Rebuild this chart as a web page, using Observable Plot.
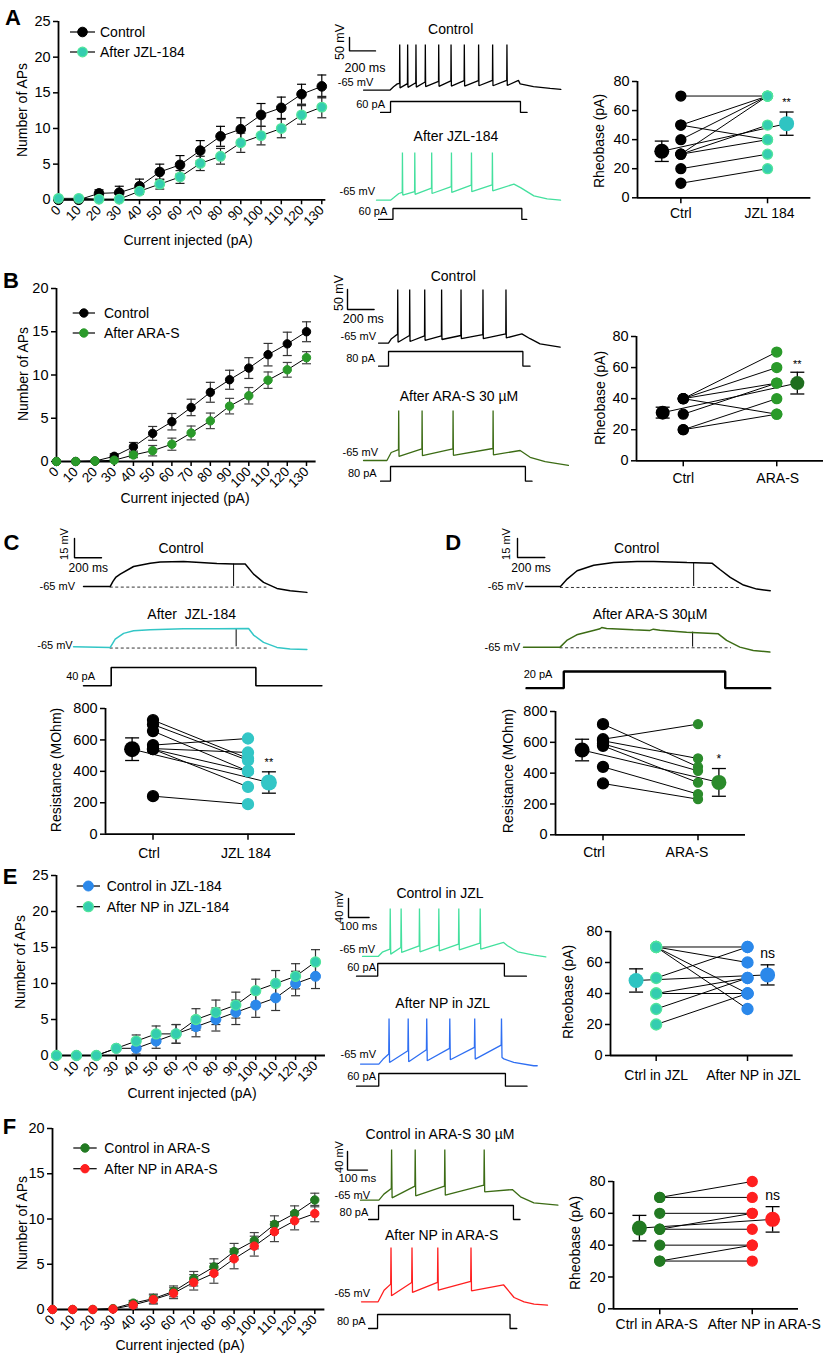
<!DOCTYPE html>
<html>
<head>
<meta charset="utf-8">
<script src="https://cdn.jsdelivr.net/npm/d3@7"></script>
<script src="https://cdn.jsdelivr.net/npm/@observablehq/plot@0.6"></script>
<style>
html, body { margin: 0; padding: 0; background: #fff; }
#fig { position: relative; width: 837px; height: 1354px; overflow: hidden; background: #fff;
  font-family: "Liberation Sans", Arial, Helvetica, sans-serif; color: #000; }
.lbl { position: absolute; white-space: pre; line-height: 1; transform-origin: 0 0; }
#fig svg { position: absolute; }
</style>
</head>
<body>
<div id="fig"></div>
<script>
// ================= DATA =================
const currents = [0,10,20,30,40,50,60,70,80,90,100,110,120,130];
const apTicks25 = [0,5,10,15,20,25];
const apTicks20 = [0,5,10,15,20];
const rheoTicks = [0,20,40,60,80];
const resTicks = [0,200,400,600,800];

// Panel A: number of APs
const seriesA = ["Control", "After JZL-184"];
const apA_ctrl    = [0,0,0.9,1,1.9,3.9,4.9,6.9,8.9,9.9,11.9,12.9,14.8,15.9];
const apA_ctrlSem = [0,0,0.5,0.9,1.0,1.1,1.3,1.4,1.4,1.6,1.6,1.5,1.4,1.6];
const apA_jzl     = [0.2,0.2,0.1,0.1,1.2,2.2,3.2,5.1,6.1,8.0,9.0,10.0,11.9,13.0];
const apA_jzlSem  = [0,0,0,0,0.4,0.7,0.9,1.0,1.1,1.35,1.3,1.3,1.3,1.5];
// Panel B
const seriesB = ["Control", "After ARA-S"];
const apB_ctrl    = [0,0,0.05,0.6,1.7,3.25,4.6,6.25,8.0,9.45,10.8,12.35,13.6,15.0];
const apB_ctrlSem = [0,0,0,0.3,0.5,0.8,0.95,0.95,1.15,1.1,1.2,1.3,1.35,1.15];
const apB_aras    = [0,0,0.05,0.15,0.75,1.25,2.0,3.3,4.7,6.4,7.6,9.4,10.6,12.0];
const apB_arasSem = [0,0,0,0,0.3,0.6,0.7,0.8,0.9,0.9,0.95,0.95,0.85,0.7];
// Panel E
const seriesE = ["Control in JZL-184", "After NP in JZL-184"];
const apE_ctrl    = [0,0,0,1,1,2,3,4,5,6,7,8,10,11];
const apE_ctrlSem = [0,0,0,0,0.8,1.0,1.3,1.4,1.6,1.7,1.7,1.75,1.7,1.7];
const apE_np      = [0,0,0,1,2,3,3,5,6,7,9,10,11,13];
const apE_npSem   = [0,0,0,0,0.85,1.1,1.3,1.5,1.7,1.8,1.6,1.8,1.75,1.7];
// Panel F
const seriesF = ["Control in ARA-S", "After NP in ARA-S"];
const apF_ctrl    = [0,0,0,0.1,0.7,1.2,2.0,3.4,4.7,6.4,7.6,9.4,10.6,12.1];
const apF_ctrlSem = [0,0,0,0,0.3,0.5,0.6,0.8,0.9,0.9,0.9,0.95,0.85,0.75];
const apF_np      = [0,0,0,0.05,0.5,1.1,1.8,3.0,4.0,5.6,7.0,8.6,9.8,10.6];
const apF_npSem   = [0,0,0,0,0.3,0.5,0.6,0.85,1.1,1.1,1.1,1.1,1.0,0.9];

// Paired plots (before -> after per cell), group mean and SEM
const catsA = ["Ctrl", "JZL 184"];
const rheoA_before = [70,50,50,40,30,30,30,20,10];
const rheoA_after  = [70,70,40,70,70,50,40,30,20];
const rheoA_mean = [32, 51], rheoA_sem = [7, 8];
const catsB = ["Ctrl", "ARA-S"];
const rheoB_before = [40,40,40,40,30,20,20];
const rheoB_after  = [70,60,50,30,50,40,30];
const rheoB_mean = [31, 50], rheoB_sem = [3.5, 7];
const catsC = ["Ctrl", "JZL 184"];
const resC_before = [726,698,656,567,545,541,541,242];
const resC_after  = [482,470,401,609,520,401,301,191];
const resC_mean = [541, 329], resC_sem = [72, 68];
const catsD = ["Ctrl", "ARA-S"];
const resD_before = [718,620,610,590,577,441,333];
const resD_after  = [441,718,495,415,339,264,231];
const resD_mean = [550, 340], resD_sem = [70, 90];
const catsE = ["Ctrl in JZL", "After NP in JZL"];
const rheoE_before = [70,70,70,70,50,40,40,30,20];
const rheoE_after  = [70,60,40,30,70,50,40,50,40];
const rheoE_mean = [48.4, 52], rheoE_sem = [7.5, 6.5];
const catsF = ["Ctrl in ARA-S", "After NP in ARA-S"];
const rheoF_before = [70,70,60,50,50,40,30,30];
const rheoF_after  = [80,70,60,60,50,40,40,30];
const rheoF_mean = [50.7, 56.2], rheoF_sem = [8, 8];

// Voltage traces (ms from current onset, mV). spikes = times, thr = pre-spike mV, ahp = post-spike mV
const trA1_spk = [72,133,197,269,372,467,569,679,787,897];
const trA1_thr = [-40,-41,-38,-35,-33,-31,-30,-30,-29,-29];
const trA1_ahp = [-57,-55,-54,-52,-51,-50,-50,-49,-49,-48];
const trA2_spk = [90,185,315,467,621,782];
const trA2_thr = [-36,-33,-20,-14,-9,-8];
const trA2_ahp = [-46,-43,-40,-36,-33,-30];
const trB1_spk = [68,158,271,398,544,709,882];
const trB1_thr = [-43,-46,-47,-47,-46,-44,-42];
const trB1_ahp = [-63,-61,-58,-56,-54,-54,-52];
const trB2_spk = [75,251,484,785];
const trB2_thr = [-38,-36,-36,-35];
const trB2_ahp = [-55,-53,-52,-51];
const trE1_spk = [57,110,199,293,390,494];
const trE1_thr = [-49.6,-46.1,-42.5,-41.1,-39,-36.9];
const trE1_ahp = [-60.1,-56.6,-55.2,-53.1,-51,-49.6];
const trE2_spk = [53,146,236,348,469,599];
const trE2_thr = [-43.9,-36.9,-34.8,-32,-29.9,-25];
const trE2_ahp = [-61.5,-60.1,-58,-55.9,-54.5,-51];
const trF1_spk = [62,180,328,525];
const trF1_thr = [-39.9,-34.9,-34.9,-32.7];
const trF1_ahp = [-60,-55.7,-54.2,-47.1];
const trF2_spk = [58,163,292,458];
const trF2_thr = [-27,-23.4,-23.4,-21.3];
const trF2_ahp = [-52.1,-44.9,-39.9,-41.3];
// shape: [start, onset, peak, off time, off mV], rise points, decay points
const trA1_shape = [-205, 0, 105, 987, -29], trA1_rise = [[26,-53],[55,-42]], trA1_decay = [[1000,-42],[1103,-52],[1231,-59],[1313,-62.5]];
const trA2_shape = [-108, 0, 113, 949, -5], trA2_rise = [[26,-55],[64,-40]], trA2_decay = [[1000,-18],[1103,-49],[1205,-60],[1308,-65]];
const trB1_shape = [-75, 0, 69, 1003, -42], trB1_rise = [[20,-55],[50,-47]], trB1_decay = [[1065,-54],[1140,-67],[1291,-75]];
const trB2_shape = [-188, -12, 60, 990, -40], trB2_rise = [[20,-45]], trB2_decay = [[1065,-57],[1178,-68],[1353,-77]];
const trE1_shape = [-76, 0, 36, 609, -35.5], trE1_rise = [[20,-56]], trE1_decay = [[628,-42.5],[677,-55.2],[757,-62.2],[814,-65.7]];
const trE2_shape = [-84, 5, 31, 612, -54], trE2_rise = [[25,-55]], trE2_decay = [[660,-61.5],[757,-68.5],[774,-68.5]];
const trF1_shape = [-92, 0, 44, 667, -42.1], trF1_rise = [[25,-52]], trF1_decay = [[708,-57.8],[775,-70.7],[895,-75.8]];
const trF2_shape = [-88, -5, 51.8, 622, -28.4], trF2_rise = [[25,-40]], trF2_decay = [[675,-55.7],[725,-65],[775,-70],[842,-72.2]];
// Subthreshold traces C, D ([ms, mV])
const trC1 = [[-198,-65],[0,-65],[20,-61],[40,-58],[74,-55.4],[173,-49.5],[296,-46.9],[370,-45.9],[543,-45.6],[667,-46.3],[790,-47.1],[914,-47.6],[1000,-47.6],[1062,-55.4],[1136,-61.8],[1235,-66.5],[1333,-68.3],[1457,-69.6]];
const trC2 = [[-272,-65],[0,-65.5],[37,-59],[99,-54.6],[173,-52.6],[296,-51.8],[543,-51],[790,-51],[1025,-50.8],[1062,-55.9],[1136,-61.6],[1235,-65.5],[1333,-66.8],[1457,-67.1]];
const trD1 = [[-256,-65],[0,-65],[49,-59.2],[122,-52.6],[244,-48.2],[390,-46.1],[561,-45.3],[683,-45.3],[927,-46.1],[1110,-46.6],[1171,-51.8],[1244,-57.9],[1341,-63.9],[1439,-67.1],[1537,-68.4]];
const trD2 = [[-268,-65],[0,-65],[49,-59.7],[122,-55.3],[244,-51.8],[293,-50.5],[305,-49.5],[341,-50.3],[537,-51.3],[659,-51.8],[683,-50.8],[732,-51.6],[927,-53.2],[1159,-54.5],[1220,-59.7],[1317,-65],[1415,-67.6],[1537,-68.9]];
const markC = [[914,-47.6],[933,-51]], markD = [[976,-46.2],[971,-53.2]];   // [ms, mV] of measurement bars
const dashC = [[1160,-65.5],[1173,-66]], dashD = [[1317,-65.8],[1256,-65.5]]; // [end ms, mV]
// Current steps: [start, on, off, end, pA]
const stepA1 = [-77,0,1000,1051,60], stepA2 = [-90,21,1013,1051,60];
const stepB1 = [-75,0,1011,1065,80], stepB2 = [-62,13,1028,1078,80];
const stepC = [-198,7,1079,1568,40], stepD = [-249,24,1207,1537,20];
const stepE1 = [-103,0,615,722,60], stepE2 = [-103,5,620,725,60];
const stepF1 = [-50,0,675,708,80], stepF2 = [-50,-5,658,692,80];
// Scale bars [mV, ms]
const barA = [50,200], barB = [50,200], barC = [15,200], barD = [15,200], barE = [40,100], barF = [40,100];

// ================= HELPERS =================
const fig = document.getElementById("fig");
const FONT = '"Liberation Sans", Arial, Helvetica, sans-serif';
const STYLE = `background: transparent; overflow: visible; font-family: ${FONT}; color: #000;`;
const M = 0.22;
const capSymbol = {draw(ctx, size) { const r = Math.sqrt(size / Math.PI); ctx.moveTo(-r, 0); ctx.lineTo(r, 0); }};

function place(node, left, top) {
  node.style.position = "absolute";
  node.style.left = left + "px";
  node.style.top = top + "px";
  fig.appendChild(node);
}
function label(text, x, y, opt = {}) {
  const {size = 14, anchor = "middle", rotate = 0, weight = 400, color = "#000"} = opt;
  const d = document.createElement("div");
  d.className = "lbl";
  d.textContent = text;
  d.style.left = x + "px"; d.style.top = y + "px";
  d.style.fontSize = size + "px"; d.style.fontWeight = weight; d.style.color = color;
  const tx = anchor === "middle" ? "-50%" : anchor === "end" ? "-100%" : "0%";
  d.style.transform = `rotate(${rotate}deg) translate(${tx}, -50%)`;
  fig.appendChild(d);
}

function apChart(o) {
  const pad = {l: 62, r: 24, t: 10, b: 48};
  const W = o.x1 - o.x0, H = o.y0 - o.y1;
  const marks = [
    Plot.axisY({ticks: o.yTicks, tickSize: 5, tickPadding: 3, fontSize: 14.5, strokeWidth: 1.5, label: null}),
    Plot.axisX({ticks: currents, tickSize: 5, tickPadding: 3, tickRotate: -45, fontSize: 13.5, strokeWidth: 1.5, label: null}),
    Plot.ruleX([0], {y1: () => 0, y2: () => o.yMax, strokeWidth: 1.8}),
    Plot.ruleY([0], {x1: () => 0, x2: () => o.axisEnd, strokeWidth: 1.8})
  ];
  const rowsBy = o.series.map(s => currents.map((c, i) => ({c, v: s.values[i], e: s.sem[i]})));
  o.series.forEach((s, k) => {
    const err = rowsBy[k].filter(d => d.e > 0);
    marks.push(Plot.ruleX(err, {x: "c", y1: d => d.v - d.e, y2: d => d.v + d.e, stroke: s.bar, strokeWidth: 1.2}));
    marks.push(Plot.dot(err, {x: "c", y: d => d.v + d.e, symbol: capSymbol, r: 4.5, fill: "none", stroke: s.bar, strokeWidth: 1.2}));
    marks.push(Plot.dot(err, {x: "c", y: d => d.v - d.e, symbol: capSymbol, r: 4.5, fill: "none", stroke: s.bar, strokeWidth: 1.2}));
  });
  o.series.forEach((s, k) => marks.push(Plot.line(rowsBy[k], {x: "c", y: "v", stroke: "#000", strokeWidth: 1})));
  o.series.forEach((s, k) => marks.push(Plot.dot(rowsBy[k], {x: "c", y: "v", r: s.r, fill: s.fill, stroke: s.stroke, strokeWidth: s.sw})));
  const svg = Plot.plot({
    width: W + pad.l + pad.r, height: H + pad.t + pad.b,
    marginLeft: pad.l, marginRight: pad.r, marginTop: pad.t, marginBottom: pad.b,
    x: {domain: [0, 130], range: [pad.l, pad.l + W]},
    y: {domain: [0, o.yMax], range: [pad.t + H, pad.t]},
    style: STYLE, marks
  });
  place(svg, o.x0 - pad.l, o.y1 - pad.t);
}

function pairChart(o) {
  const pad = {l: 60, r: 30, t: 24, b: 36};
  const W = o.x1 - o.x0, H = o.y0 - o.y1;
  const mrows = [{x: -M, m: o.mean[0], e: o.sem[0]}, {x: 1 + M, m: o.mean[1], e: o.sem[1]}];
  const pairs = o.before.map((b, i) => ({b, a: o.after[i]}));
  const marks = [
    Plot.axisY({ticks: o.yTicks, tickSize: 5, tickPadding: 3, fontSize: 14.5, strokeWidth: 1.5, label: null}),
    Plot.axisX({ticks: [0, 1], tickFormat: () => "", tickSize: 6, strokeWidth: 1.5, label: null}),
    Plot.text([o.cats[0]], {x: () => 0, y: () => 0, text: d => d, dy: o.ldy, dx: o.ldx[0], fontSize: 14, fill: "#000"}),
    Plot.text([o.cats[1]], {x: () => 1, y: () => 0, text: d => d, dy: o.ldy, dx: o.ldx[1], fontSize: 14, fill: "#000"}),
    Plot.ruleX([-0.5], {y1: () => 0, y2: () => o.yMax, strokeWidth: 1.8}),
    Plot.ruleY([0], {x1: () => -0.5, x2: () => 1.5, strokeWidth: 1.8}),
    Plot.link(pairs, {x1: () => 0, y1: "b", x2: () => 1, y2: "a", stroke: "#000", strokeWidth: 1}),
    Plot.link([0], {x1: () => -M, y1: () => o.mean[0], x2: () => 1 + M, y2: () => o.mean[1], stroke: "#000", strokeWidth: 1}),
    Plot.ruleX(mrows, {x: "x", y1: d => d.m - d.e, y2: d => d.m + d.e, strokeWidth: 1.3}),
    Plot.dot(mrows, {x: "x", y: d => d.m + d.e, symbol: capSymbol, r: 7, fill: "none", stroke: "#000", strokeWidth: 1.3}),
    Plot.dot(mrows, {x: "x", y: d => d.m - d.e, symbol: capSymbol, r: 7, fill: "none", stroke: "#000", strokeWidth: 1.3}),
    Plot.dot(o.before, {x: () => 0, y: d => d, r: o.r[0], fill: o.fill[0], stroke: o.stroke[0], strokeWidth: 1.3}),
    Plot.dot(o.after, {x: () => 1, y: d => d, r: o.r[1], fill: o.fill[1], stroke: o.stroke[1], strokeWidth: 1.3}),
    Plot.dot([mrows[0]], {x: "x", y: "m", r: o.rMean, fill: o.meanFill[0]}),
    Plot.dot([mrows[1]], {x: "x", y: "m", r: o.rMean, fill: o.meanFill[1]}),
    Plot.text([o.sig], {x: () => 1 + M, y: () => o.mean[1] + o.sem[1], text: d => d, dy: o.sigDy, fontSize: o.sigSize, fill: "#000"})
  ];
  const svg = Plot.plot({
    width: W + pad.l + pad.r, height: H + pad.t + pad.b,
    marginLeft: pad.l, marginRight: pad.r, marginTop: pad.t, marginBottom: pad.b,
    x: {domain: [-0.5, 1.5], range: [pad.l, pad.l + W]},
    y: {domain: [0, o.yMax], range: [pad.t + H, pad.t]},
    style: STYLE, marks
  });
  place(svg, o.x0 - pad.l, o.y1 - pad.t);
}

// generic trace plot: pts [x, y]; xOn = pixel of x=0; yRef = pixel of y=ref
function tracePlot(pts, {xOn, yRef, ref = -65, kx, ky, stroke = "#000", sw = 1.3, extra = []}) {
  const xs = pts.map(p => p[0]), ys = pts.map(p => p[1]);
  const tmin = d3.min(xs), tmax = d3.max(xs), vmin = d3.min(ys), vmax = d3.max(ys);
  const pad = 4;
  const width = (tmax - tmin) * kx + 2 * pad, height = (vmax - vmin) * ky + 2 * pad;
  const svg = Plot.plot({
    width, height, margin: 0,
    x: {domain: [tmin, tmax], range: [pad, width - pad], axis: null},
    y: {domain: [vmin, vmax], range: [height - pad, pad], axis: null},
    style: STYLE,
    marks: [...extra, Plot.line(pts, {x: d => d[0], y: d => d[1], stroke, strokeWidth: sw, strokeLinejoin: "miter"})]
  });
  place(svg, xOn + tmin * kx - pad, yRef - (vmax - ref) * ky - pad);
}
function spikeTrace(shape, rise, spikes, thr, ahp, decay) {
  const [start, on, peak, off, offV] = shape;
  const pts = [[start, -65], [on, -65], ...rise];
  spikes.forEach((t, i) => pts.push([t, thr[i]], [t + 1.5, peak], [t + 4, ahp[i]]));
  pts.push([off, offV], ...decay);
  return pts;
}
function stepTrace(s) {
  const [start, on, off, end, amp] = s;
  return [[start, 0], [on, 0], [on, amp], [off, amp], [off, 0], [end, 0]];
}
function scaleBar(bar, x, y, kx, ky) {
  const [mv, ms] = bar;
  tracePlot([[0, mv], [0, 0], [ms, 0]], {xOn: x, yRef: y, ref: 0, kx, ky, sw: 1.4});
}
function legend(items, {xl0, xl1, xt, ys}) {
  const top = ys[0] - 14, h = ys[ys.length - 1] - ys[0] + 28;
  const svg = d3.create("svg").attr("width", 260).attr("height", h)
    .attr("style", `overflow: visible; font-family: ${FONT};`);
  items.forEach((it, i) => {
    const y = ys[i] - top;
    svg.append("line").attr("x1", xl0).attr("x2", xl1).attr("y1", y).attr("y2", y).attr("stroke", "#000").attr("stroke-width", 1.2);
    svg.append("circle").attr("cx", (xl0 + xl1) / 2).attr("cy", y).attr("r", it.r).attr("fill", it.fill).attr("stroke", it.stroke).attr("stroke-width", it.sw);
    svg.append("text").attr("x", xt).attr("y", y).attr("dy", "0.36em").attr("font-size", 14).attr("fill", "#000").text(it.name);
  });
  place(svg.node(), 0, top);
}

// ================= COLORS =================
const C_BLACK = "#000";
const C_MINT_F = "#34cdb0", C_MINT_S = "#52e59b";
const C_MINT_TR = "#44e09e";
const C_TEAL = "#2fc4c2";
const C_CYAN = "#33c6c6";
const C_GREEN = "#2a9a2a", C_GREEN_D = "#1f6e1f";
const C_OLIVE = "#3c6c15";
const C_BLUE = "#2b88ea", C_BLUE_TR = "#2f6ff2";
const C_RED = "#ff1f1f";
const C_DKGREEN = "#227a22";

// ================= PANEL A =================
label("A", 13, 18, {size: 22, weight: 700});
apChart({x0: 57.7, x1: 321, y0: 199, y1: 20.7, yMax: 25, yTicks: apTicks25, axisEnd: 132,
  series: [
    {values: apA_ctrl, sem: apA_ctrlSem, fill: C_BLACK, stroke: C_BLACK, sw: 1, r: 4.8, bar: "#000"},
    {values: apA_jzl, sem: apA_jzlSem, fill: C_MINT_F, stroke: C_MINT_S, sw: 1.3, r: 4.8, bar: "#222"}
  ]});
legend([{name: seriesA[0], r: 4.8, fill: C_BLACK, stroke: C_BLACK, sw: 1}, {name: seriesA[1], r: 4.8, fill: C_MINT_F, stroke: C_MINT_S, sw: 1.3}],
  {xl0: 70, xl1: 95, xt: 100, ys: [32, 52]});
label("Number of APs", 21.7, 110, {rotate: -90, size: 14});
label("Current injected (pA)", 188, 240, {size: 14});
// traces A
scaleBar(barA, 349, 50.7, 0.13, 0.268);
label("50 mV", 340, 42.3, {rotate: -90, size: 12.5});
label("200 ms", 365, 68.3, {size: 12.5});
label("Control", 450.7, 29.3, {size: 14});
tracePlot(spikeTrace(trA1_shape, trA1_rise, trA1_spk, trA1_thr, trA1_ahp, trA1_decay), {xOn: 390, yRef: 89.3, kx: 0.13, ky: 0.268, stroke: "#000"});
label("-65 mV", 373.3, 82.3, {anchor: "end", size: 11});
tracePlot(stepTrace(stepA1), {xOn: 390, yRef: 111.7, ref: 0, kx: 0.13, ky: 0.183});
label("60 pA", 385, 104, {anchor: "end", size: 11});
label("After JZL-184", 456, 136, {size: 14});
tracePlot(spikeTrace(trA2_shape, trA2_rise, trA2_spk, trA2_thr, trA2_ahp, trA2_decay), {xOn: 390, yRef: 199.3, kx: 0.13, ky: 0.268, stroke: C_MINT_TR});
label("-65 mV", 375, 190.7, {anchor: "end", size: 11});
tracePlot(stepTrace(stepA2), {xOn: 390, yRef: 219.3, ref: 0, kx: 0.13, ky: 0.183});
label("60 pA", 387.3, 210.7, {anchor: "end", size: 11});
// rheobase A
pairChart({x0: 637.3, x1: 810.7, y0: 197.3, y1: 81, yMax: 80, yTicks: rheoTicks, cats: catsA, ldx: [0, 2], ldy: 16,
  before: rheoA_before, after: rheoA_after, mean: rheoA_mean, sem: rheoA_sem,
  r: [5, 5], fill: [C_BLACK, C_MINT_F], stroke: [C_BLACK, C_MINT_S], rMean: 7.5, meanFill: [C_BLACK, C_TEAL],
  sig: "**", sigDy: -10, sigSize: 11});
label("Rheobase (pA)", 599.3, 140.7, {rotate: -90, size: 14});

// ================= PANEL B =================
label("B", 11, 281, {size: 22, weight: 700});
apChart({x0: 56, x1: 306, y0: 460.7, y1: 287.7, yMax: 20, yTicks: apTicks20, axisEnd: 135,
  series: [
    {values: apB_ctrl, sem: apB_ctrlSem, fill: C_BLACK, stroke: C_BLACK, sw: 1, r: 4.2, bar: "#333"},
    {values: apB_aras, sem: apB_arasSem, fill: C_GREEN, stroke: C_GREEN, sw: 1, r: 4.2, bar: "#444"}
  ]});
legend([{name: seriesB[0], r: 4.2, fill: C_BLACK, stroke: C_BLACK, sw: 1}, {name: seriesB[1], r: 4.2, fill: C_GREEN, stroke: C_GREEN, sw: 1}],
  {xl0: 72.7, xl1: 95, xt: 104, ys: [313, 333]});
label("Number of APs", 23, 374, {rotate: -90, size: 14});
label("Current injected (pA)", 185, 498.3, {size: 14});
scaleBar(barB, 346.7, 309, 0.133, 0.4);
label("50 mV", 339, 293, {rotate: -90, size: 12.5});
label("200 ms", 363.3, 319.3, {size: 12.5});
label("Control", 453.3, 276, {size: 14});
tracePlot(spikeTrace(trB1_shape, trB1_rise, trB1_spk, trB1_thr, trB1_ahp, trB1_decay), {xOn: 388.3, yRef: 342.7, kx: 0.133, ky: 0.4, stroke: "#000"});
label("-65 mV", 376, 335.7, {anchor: "end", size: 11});
tracePlot(stepTrace(stepB1), {xOn: 388.3, yRef: 365.7, ref: 0, kx: 0.133, ky: 0.184});
label("80 pA", 375, 358.3, {anchor: "end", size: 11});
label("After ARA-S 30 \u00b5M", 459, 396, {size: 14});
tracePlot(spikeTrace(trB2_shape, trB2_rise, trB2_spk, trB2_thr, trB2_ahp, trB2_decay), {xOn: 388.3, yRef: 460, kx: 0.133, ky: 0.4, stroke: C_OLIVE});
label("-65 mV", 378, 451.7, {anchor: "end", size: 11});
tracePlot(stepTrace(stepB2), {xOn: 388.3, yRef: 481, ref: 0, kx: 0.133, ky: 0.184});
label("80 pA", 376.7, 473.3, {anchor: "end", size: 11});
pairChart({x0: 636, x1: 823, y0: 460, y1: 335.7, yMax: 80, yTicks: rheoTicks, cats: catsB, ldx: [0, 1], ldy: 18,
  before: rheoB_before, after: rheoB_after, mean: rheoB_mean, sem: rheoB_sem,
  r: [5, 5], fill: [C_BLACK, C_GREEN], stroke: [C_BLACK, C_GREEN], rMean: 7, meanFill: [C_BLACK, C_GREEN_D],
  sig: "**", sigDy: -8, sigSize: 11});
label("Rheobase (pA)", 600, 398, {rotate: -90, size: 14});

// ================= PANEL C =================
label("C", 11.5, 543, {size: 22, weight: 700});
scaleBar(barC, 74, 557.3, 0.135, 1.287);
label("15 mV", 64, 543.7, {rotate: -90, size: 11});
label("200 ms", 88.3, 567.7, {size: 12});
label("Control", 181, 548.3, {size: 14});
tracePlot(trC1, {xOn: 110, yRef: 585.7, kx: 0.135, ky: 1.287, stroke: "#000", sw: 1.5,
  extra: [
    Plot.ruleY([dashC[0][1]], {x1: () => 0, x2: () => dashC[0][0], stroke: "#333", strokeWidth: 1, strokeDasharray: "3,2.5"}),
    Plot.ruleX([markC[0][0]], {y1: () => -65, y2: () => markC[0][1], stroke: "#000", strokeWidth: 1})
  ]});
label("-65 mV", 75, 585.7, {anchor: "end", size: 11});
label("After  JZL-184", 191.7, 614.3, {size: 14});
tracePlot(trC2, {xOn: 110, yRef: 646, kx: 0.135, ky: 1.287, stroke: C_CYAN, sw: 1.5,
  extra: [
    Plot.ruleY([dashC[1][1]], {x1: () => 0, x2: () => dashC[1][0], stroke: "#333", strokeWidth: 1, strokeDasharray: "3,2.5"}),
    Plot.ruleX([markC[1][0]], {y1: () => -65, y2: () => markC[1][1], stroke: "#000", strokeWidth: 1})
  ]});
label("-65 mV", 72.7, 645, {anchor: "end", size: 11});
tracePlot(stepTrace(stepC), {xOn: 110, yRef: 685, ref: 0, kx: 0.135, ky: 0.458, sw: 1.6});
label("40 pA", 95, 675.7, {anchor: "end", size: 11});
pairChart({x0: 105, x1: 295, y0: 834, y1: 708.3, yMax: 800, yTicks: resTicks, cats: catsC, ldx: [-4, -2], ldy: 19,
  before: resC_before, after: resC_after, mean: resC_mean, sem: resC_sem,
  r: [5.5, 5.5], fill: [C_BLACK, C_CYAN], stroke: [C_BLACK, C_CYAN], rMean: 8, meanFill: [C_BLACK, C_CYAN],
  sig: "**", sigDy: -9, sigSize: 11});
label("Resistance (MOhm)", 55.5, 770, {rotate: -90, size: 14});

// ================= PANEL D =================
label("D", 453.3, 543, {size: 22, weight: 700});
scaleBar(barD, 516.7, 557, 0.1365, 1.267);
label("15 mV", 506, 543.7, {rotate: -90, size: 11});
label("200 ms", 531, 567.7, {size: 12});
label("Control", 636.7, 548, {size: 14});
tracePlot(trD1, {xOn: 560, yRef: 585.7, kx: 0.1365, ky: 1.267, stroke: "#000", sw: 1.5,
  extra: [
    Plot.ruleY([dashD[0][1]], {x1: () => 0, x2: () => dashD[0][0], stroke: "#333", strokeWidth: 1, strokeDasharray: "3,2.5"}),
    Plot.ruleX([markD[0][0]], {y1: () => -65, y2: () => markD[0][1], stroke: "#000", strokeWidth: 1})
  ]});
label("-65 mV", 523.3, 585.7, {anchor: "end", size: 11});
label("After ARA-S 30\u00b5M", 650, 614.3, {size: 14});
tracePlot(trD2, {xOn: 560, yRef: 646.7, kx: 0.1365, ky: 1.267, stroke: C_OLIVE, sw: 1.5,
  extra: [
    Plot.ruleY([dashD[1][1]], {x1: () => 0, x2: () => dashD[1][0], stroke: "#333", strokeWidth: 1, strokeDasharray: "3,2.5"}),
    Plot.ruleX([markD[1][0]], {y1: () => -65, y2: () => markD[1][1], stroke: "#000", strokeWidth: 1})
  ]});
label("-65 mV", 520, 646.7, {anchor: "end", size: 11});
tracePlot(stepTrace(stepD), {xOn: 560, yRef: 687.7, ref: 0, kx: 0.1365, ky: 0.833, sw: 2.4});
label("20 pA", 538, 674.3, {size: 11});
pairChart({x0: 555, x1: 745, y0: 834, y1: 710.7, yMax: 800, yTicks: resTicks, cats: catsD, ldx: [-9, -11], ldy: 18,
  before: resD_before, after: resD_after, mean: resD_mean, sem: resD_sem,
  r: [5.5, 4.5], fill: [C_BLACK, "#2b8b2b"], stroke: [C_BLACK, "#2b8b2b"], rMean: 7.5, meanFill: [C_BLACK, "#2b8b2b"],
  sig: "*", sigDy: -9, sigSize: 12});
label("Resistance (MOhm)", 508.3, 771, {rotate: -90, size: 14});

// ================= PANEL E =================
label("E", 10, 877, {size: 22, weight: 700});
apChart({x0: 56, x1: 315, y0: 1055, y1: 875, yMax: 25, yTicks: apTicks25, axisEnd: 135,
  series: [
    {values: apE_ctrl, sem: apE_ctrlSem, fill: C_BLUE, stroke: C_BLUE, sw: 1, r: 5, bar: "#333"},
    {values: apE_np, sem: apE_npSem, fill: C_MINT_F, stroke: C_MINT_S, sw: 1.3, r: 5, bar: "#333"}
  ]});
legend([{name: seriesE[0], r: 5, fill: C_BLUE, stroke: C_BLUE, sw: 1}, {name: seriesE[1], r: 5, fill: C_MINT_F, stroke: C_MINT_S, sw: 1.3}],
  {xl0: 76.7, xl1: 100, xt: 106.7, ys: [886, 906.7]});
label("Number of APs", 19.7, 962, {rotate: -90, size: 14});
label("Current injected (pA)", 192, 1093.3, {size: 14});
scaleBar(barE, 347.7, 916.7, 0.206, 0.475);
label("40 mV", 339, 907, {rotate: -90, size: 11});
label("100 ms", 358.3, 926.7, {size: 11.5});
label("Control in JZL", 440, 893.3, {size: 14});
tracePlot(spikeTrace(trE1_shape, trE1_rise, trE1_spk, trE1_thr, trE1_ahp, trE1_decay), {xOn: 377.3, yRef: 955.7, kx: 0.206, ky: 0.475, stroke: C_MINT_TR});
label("-65 mV", 375, 949, {anchor: "end", size: 11});
tracePlot(stepTrace(stepE1), {xOn: 377.3, yRef: 976, ref: 0, kx: 0.206, ky: 0.211});
label("60 pA", 376, 966.7, {anchor: "end", size: 11});
label("After NP in JZL", 442.7, 1003.3, {size: 14});
tracePlot(spikeTrace(trE2_shape, trE2_rise, trE2_spk, trE2_thr, trE2_ahp, trE2_decay), {xOn: 377.3, yRef: 1063.3, kx: 0.206, ky: 0.475, stroke: C_BLUE_TR});
label("-65 mV", 376, 1054.3, {anchor: "end", size: 11});
tracePlot(stepTrace(stepE2), {xOn: 377.3, yRef: 1085.7, ref: 0, kx: 0.206, ky: 0.211});
label("60 pA", 376, 1075.7, {anchor: "end", size: 11});
pairChart({x0: 610, x1: 792.7, y0: 1055, y1: 931, yMax: 80, yTicks: rheoTicks, cats: catsE, ldx: [0, 6], ldy: 20,
  before: rheoE_before, after: rheoE_after, mean: rheoE_mean, sem: rheoE_sem,
  r: [5.5, 5.5], fill: [C_MINT_F, C_BLUE], stroke: [C_MINT_S, C_BLUE], rMean: 7.5, meanFill: [C_TEAL, C_BLUE],
  sig: "ns", sigDy: -11, sigSize: 14});
label("Rheobase (pA)", 568.3, 991.7, {rotate: -90, size: 14});

// ================= PANEL F =================
label("F", 9.5, 1127, {size: 22, weight: 700});
apChart({x0: 51.7, x1: 314, y0: 1309.3, y1: 1128.3, yMax: 20, yTicks: apTicks20, axisEnd: 135,
  series: [
    {values: apF_ctrl, sem: apF_ctrlSem, fill: C_DKGREEN, stroke: C_DKGREEN, sw: 1, r: 4.2, bar: "#444"},
    {values: apF_np, sem: apF_npSem, fill: C_RED, stroke: C_RED, sw: 1, r: 4.2, bar: "#444"}
  ]});
legend([{name: seriesF[0], r: 4.2, fill: C_DKGREEN, stroke: C_DKGREEN, sw: 1}, {name: seriesF[1], r: 4.2, fill: C_RED, stroke: C_RED, sw: 1}],
  {xl0: 73.3, xl1: 96.7, xt: 104.3, ys: [1148.3, 1169]});
label("Number of APs", 21.7, 1223, {rotate: -90, size: 14});
label("Current injected (pA)", 180, 1345, {size: 14});
scaleBar(barF, 346.7, 1169.3, 0.2, 0.465);
label("40 mV", 339, 1156.7, {rotate: -90, size: 11});
label("100 ms", 357.3, 1179, {size: 11.5});
label("Control in ARA-S 30 \u00b5M", 440, 1134.3, {size: 14});
tracePlot(spikeTrace(trF1_shape, trF1_rise, trF1_spk, trF1_thr, trF1_ahp, trF1_decay), {xOn: 378.3, yRef: 1200, kx: 0.2, ky: 0.465, stroke: C_OLIVE});
label("-65 mV", 370, 1195, {anchor: "end", size: 11});
tracePlot(stepTrace(stepF1), {xOn: 378.3, yRef: 1219, ref: 0, kx: 0.2, ky: 0.175});
label("80 pA", 368.3, 1211.7, {anchor: "end", size: 11});
label("After NP in ARA-S", 441.7, 1235, {size: 14});
tracePlot(spikeTrace(trF2_shape, trF2_rise, trF2_spk, trF2_thr, trF2_ahp, trF2_decay), {xOn: 378.3, yRef: 1301, kx: 0.2, ky: 0.465, stroke: C_RED});
label("-65 mV", 370, 1292.7, {anchor: "end", size: 11});
tracePlot(stepTrace(stepF2), {xOn: 378.3, yRef: 1327.7, ref: 0, kx: 0.2, ky: 0.175});
label("80 pA", 365.7, 1320.7, {anchor: "end", size: 11});
pairChart({x0: 613.3, x1: 798.3, y0: 1308.3, y1: 1181, yMax: 80, yTicks: rheoTicks, cats: catsF, ldx: [-3, 12], ldy: 16,
  before: rheoF_before, after: rheoF_after, mean: rheoF_mean, sem: rheoF_sem,
  r: [5, 5], fill: [C_DKGREEN, C_RED], stroke: [C_DKGREEN, C_RED], rMean: 7.5, meanFill: [C_DKGREEN, C_RED],
  sig: "ns", sigDy: -11, sigSize: 14});
label("Rheobase (pA)", 575, 1243.3, {rotate: -90, size: 14});
</script>
</body>
</html>
